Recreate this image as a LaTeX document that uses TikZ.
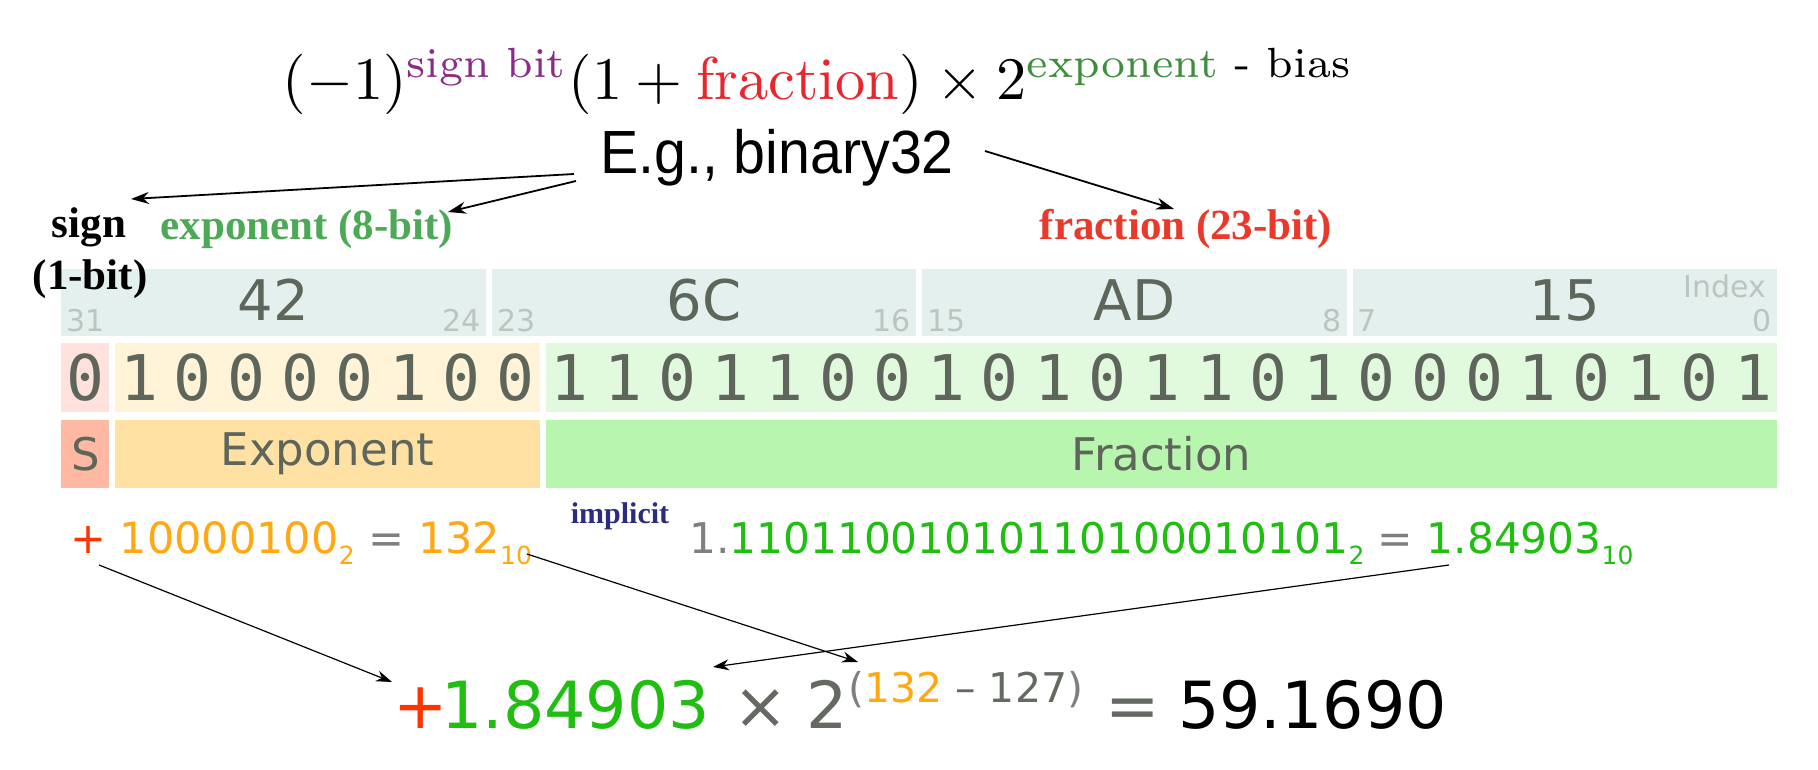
\documentclass[tikz,border=0pt]{standalone}
\usepackage{fontspec}
\usepackage{amsmath}
\usepackage{graphicx}
\usetikzlibrary{arrows.meta}
\newfontfamily\arialf{Liberation Sans}
\newfontfamily\tnrf{Liberation Serif}
\newfontfamily\dvf{DejaVu Sans}
\newfontfamily\dvmf{DejaVu Sans Mono}
\definecolor{hexbg}{HTML}{E3F0EE}
\definecolor{signbit}{HTML}{FFE1DD}
\definecolor{expbit}{HTML}{FFF3D8}
\definecolor{fracbit}{HTML}{E1FADD}
\definecolor{signlab}{HTML}{FFB9A3}
\definecolor{explab}{HTML}{FFE1A3}
\definecolor{fraclab}{HTML}{B8F5AE}
\definecolor{celltext}{HTML}{5E665C}
\definecolor{idxc}{HTML}{BCC4C0}
\definecolor{lgreen}{HTML}{4CAA57}
\definecolor{lred}{HTML}{E8392A}
\definecolor{pred}{HTML}{FF3300}
\definecolor{orng}{HTML}{FFA812}
\definecolor{gry}{HTML}{7F7F7F}
\definecolor{dgry}{HTML}{646A62}
\definecolor{grn}{HTML}{1FBE10}
\definecolor{navy}{HTML}{2B2B80}
\definecolor{fpurp}{HTML}{8B2C8B}
\definecolor{fred}{HTML}{E8262E}
\definecolor{fgreen}{HTML}{3E8E3E}
\newcommand{\mysub}[1]{\raisebox{-11pt}{\fontsize{25}{28}\selectfont #1}}
\begin{document}
\begin{tikzpicture}[x=1pt,y=-1pt,
  hextxt/.style={inner sep=0, text=celltext, font=\dvf\fontsize{56}{60}\selectfont},
  idx/.style={inner sep=0, text=idxc, font=\dvf\fontsize{30}{32}\selectfont},
  bittxt/.style={inner sep=0, text=celltext, font=\dvmf\fontsize{63}{70}\selectfont},
  labbox/.style={inner sep=0, text=celltext, font=\dvf\fontsize{45}{50}\selectfont, minimum height=68pt},
  toplbl/.style={inner sep=0, font=\tnrf\bfseries\fontsize{43}{49}\selectfont},
  line5/.style={inner sep=0, font=\dvf\fontsize{43}{50}\selectfont},
  finalf/.style={inner sep=0, anchor=base west, font=\dvf\fontsize{65}{70}\selectfont},
  toparr/.style={line width=1.8pt, -{Stealth[length=18pt,width=12pt]}},
  botarr/.style={line width=1.2pt, -{Stealth[length=16pt,width=11pt]}}]
\useasboundingbox[fill=white] (0,0) rectangle (1818,770);
\def\xo{61.4}\def\bw{53.8}\def\gp{6}
% formula
\node[inner sep=0] (formula) at (818,81) {\resizebox{1070pt}{!}{$(-1)^{\text{\color{fpurp}sign bit}}(1+\text{\color{fred}fraction})\times 2^{\text{\color{fgreen}exponent}\text{ - bias}}$}};
% E.g.
\node[inner sep=0, font=\arialf\fontsize{61}{64}\selectfont] (eg) at (777,158) {\scalebox{0.94}[1]{E.g., binary32}};
% hex row
\foreach \k/\hx/\lo/\hi in {0/42/31/24,1/6C/23/16,2/AD/15/8,3/15/7/0}{
  \pgfmathsetmacro\cL{\xo+8*\k*\bw}
  \pgfmathsetmacro\cR{\cL+8*\bw-\gp}
  \pgfmathsetmacro\cM{(\cL+\cR)/2}
  \fill[hexbg] (\cL,269) rectangle (\cR,336);
  \node[hextxt] (hex\k) at (\cM,300) {\hx};
  \node[idx,anchor=base west] (idxl\k) at (\cL+5,331) {\lo};
  \node[idx,anchor=base east] (idxr\k) at (\cR-5,331) {\hi};
}
\node[idx,anchor=base east] (idxname) at (1771-5,298) {Index};
% bits row backgrounds
\fill[signbit] (\xo,343) rectangle ({\xo+\bw-\gp},412);
\fill[expbit] ({\xo+\bw},343) rectangle ({\xo+9*\bw-\gp},412);
\fill[fracbit] ({\xo+9*\bw},343) rectangle ({\xo+32*\bw-\gp},412);
\foreach \b [count=\i from 0] in {0,1,0,0,0,0,1,0,0,1,1,0,1,1,0,0,1,0,1,0,1,1,0,1,0,0,0,1,0,1,0,1}{
  \node[bittxt] (bit\i) at ({\xo+\i*\bw+(\bw-\gp)/2},378) {\b};
}
% label row
\node[labbox, fill=signlab, minimum width={\bw-\gp}] (slab) at ({\xo+(\bw-\gp)/2},454) {S};
\node[labbox, fill=explab, minimum width={8*\bw-\gp}] (elab) at ({\xo+\bw+(8*\bw-\gp)/2},454) {Exponent};
\node[labbox, fill=fraclab, minimum width={23*\bw-\gp}] (flab) at ({\xo+9*\bw+(23*\bw-\gp)/2},454) {Fraction};
% top labels
\node[toplbl, anchor=base] (signl) at (89,237) {sign};
\node[toplbl, anchor=base] (onebit) at (90,289) {(1-bit)};
\node[toplbl, anchor=base, text=lgreen] (expl) at (307,240) {exponent (8-bit)};
\node[toplbl, anchor=base, text=lred] (fracl) at (1186,240) {fraction (23-bit)};
\coordinate (egs) at (574,174);
\coordinate (ege) at (576,181);
\coordinate (egf) at (985,151);
\coordinate (tips) at (131,199);
\coordinate (tipe) at (448,212);
\coordinate (tipf) at (1174,209);
\draw[toparr] (egs) -- (tips);
\draw[toparr] (ege) -- (tipe);
\draw[toparr] (egf) -- (tipf);
% line 5
\node[line5, anchor=base west] (expval) at (70,553) {\color{pred}+ \color{orng}10000100\mysub{2} \color{gry}= \color{orng}132\mysub{10}};
\node[inner sep=0, text=navy, font=\tnrf\bfseries\fontsize{30}{32}\selectfont] (impl) at (620,516) {implicit};
\node[inner sep=0, anchor=base west, font=\dvf\fontsize{42.3}{50}\selectfont] (mant) at (689,553) {\color{gry}1.\color{grn}11011001010110100010101\mysub{2} \color{gry}= \color{grn}1.84903\mysub{10}};
% final
\node[finalf, text=pred] (fplus) at (393,728) {+};
\node[finalf, text=grn] (fmant) at (441,728) {1.84903};
\node[finalf, text=dgry] (ftimes) at (733,728) {×};
\node[finalf, text=dgry] (ftwo) at (806,728) {2};
\node[inner sep=0, anchor=base west, font=\dvf\fontsize{41}{44}\selectfont] (fsup) at (848,702) {\color{gry}(\color{orng}132 \color{dgry}– 127\color{gry})};
\node[finalf, text=dgry] (feq) at (1105,728) {=};
\node[finalf, text=black] (fres) at (1178,728) {59.1690};
\coordinate (a1s) at (99,565);
\coordinate (a1e) at (392,682);
\coordinate (a2s) at (527,554);
\coordinate (a2e) at (858,662);
\coordinate (a3s) at (1449,565);
\coordinate (a3e) at (713,667);
\draw[botarr] (a1s) -- (a1e);
\draw[botarr] (a2s) -- (a2e);
\draw[botarr] (a3s) -- (a3e);
\end{tikzpicture}
\end{document}
